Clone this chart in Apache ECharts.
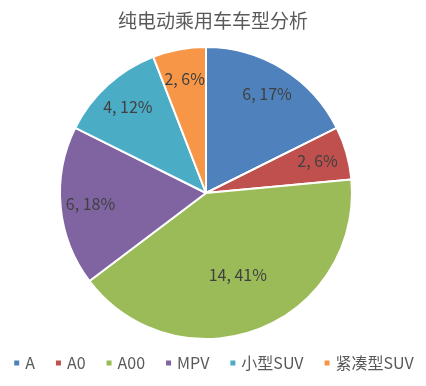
<!DOCTYPE html>
<html>
<head>
<meta charset="utf-8">
<script src="https://cdn.jsdelivr.net/npm/echarts@6/dist/echarts.min.js"></script>
<style>html,body{margin:0;padding:0;background:#fff}#c{width:426px;height:386px}</style>
</head>
<body>
<div id="c"></div>
<script>
var categories = ['A', 'A0', 'A00', 'MPV', '小型SUV', '紧凑型SUV'];
var values = [6, 2, 14, 6, 4, 2];
var percentLabels = [17, 6, 41, 18, 12, 6];
var colors = ['#4F81BD', '#C0504D', '#9BBB59', '#8064A2', '#4BACC6', '#F79646'];
var titleText = '纯电动乘用车车型分析';

var font = '"Noto Sans CJK SC", "Noto Sans", sans-serif';
var chart = echarts.init(document.getElementById('c'), null, {renderer: 'canvas'});
var maxIdx = values.indexOf(Math.max.apply(null, values));
var mainData = categories.map(function (n, i) {
  return {name: n, value: values[i], itemStyle: {color: colors[i]}};
});
function labelData(showBig) {
  return categories.map(function (n, i) {
    return {
      name: n + '\u200b', value: values[i],
      itemStyle: {color: 'rgba(0,0,0,0)'},
      label: {show: (i === maxIdx) === showBig}
    };
  });
}
var labelStyle = {
  show: true, position: 'inside', fontSize: 16, color: '#404040', fontFamily: font,
  formatter: function (p) { return values[p.dataIndex] + ', ' + percentLabels[p.dataIndex] + '%'; }
};
chart.setOption({
  animation: false,
  backgroundColor: '#fff',
  title: {
    text: titleText, left: 'center', top: 11, padding: 0,
    textStyle: {fontSize: 19, fontWeight: 'normal', color: '#595959', fontFamily: font}
  },
  legend: {
    data: categories, bottom: 10, left: 'center',
    itemWidth: 7, itemHeight: 7, itemGap: 19, icon: 'rect',
    textStyle: {fontSize: 16, color: '#595959', fontFamily: font}
  },
  series: [{
    type: 'pie', center: [206, 193], radius: [0, 146],
    startAngle: 90, clockwise: true, silent: true,
    label: {show: false}, labelLine: {show: false},
    itemStyle: {borderColor: '#fff', borderWidth: 2},
    data: mainData
  }, {
    type: 'pie', center: [206, 193], radius: [80, 146],
    startAngle: 90, clockwise: true, silent: true, legendHoverLink: false,
    label: labelStyle, labelLine: {show: false},
    data: labelData(false)
  }, {
    type: 'pie', center: [206, 193], radius: [24, 146],
    startAngle: 90, clockwise: true, silent: true, legendHoverLink: false,
    label: labelStyle, labelLine: {show: false},
    data: labelData(true)
  }]
});
</script>
</body>
</html>
